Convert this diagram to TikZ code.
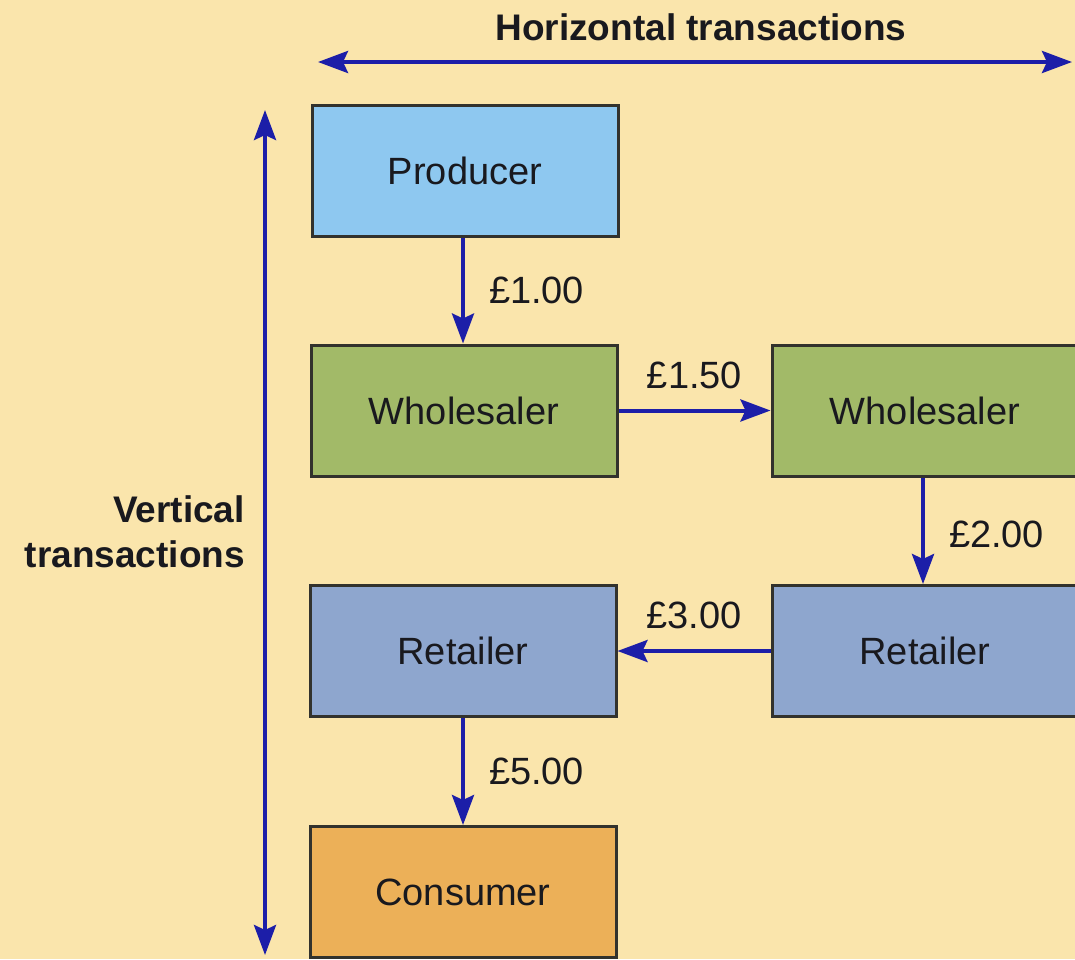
\documentclass[tikz,border=0pt]{standalone}
\usepackage{fontspec}
\setmainfont{Liberation Sans}
\usetikzlibrary{arrows.meta}
\definecolor{paper}{RGB}{250,229,172}
\definecolor{flowblue}{RGB}{28,30,168}
\definecolor{prodfill}{RGB}{142,200,240}
\definecolor{wholefill}{RGB}{162,186,104}
\definecolor{retailfill}{RGB}{142,166,206}
\definecolor{consfill}{RGB}{236,176,88}
\definecolor{edge}{RGB}{50,50,45}
\definecolor{ink}{RGB}{25,25,30}
\tikzset{
  x=1pt, y=1pt,
  stage/.style={draw=edge, line width=3pt, minimum width=306pt, minimum height=131pt,
    inner sep=0pt, text=ink, font=\fontsize{38}{44}\selectfont},
  flow/.style={draw=flowblue, line width=4pt,
    -{Stealth[length=30pt, width=22pt, inset=5pt]}},
  both/.style={draw=flowblue, line width=4pt,
    {Stealth[length=30pt, width=22pt, inset=5pt]}-{Stealth[length=30pt, width=22pt, inset=5pt]}},
  price/.style={text=ink, font=\fontsize{38}{44}\selectfont, inner sep=0pt},
  heading/.style={text=ink, font=\bfseries\fontsize{37}{45}\selectfont, inner sep=0pt}
}
\begin{document}
\begin{tikzpicture}
\useasboundingbox (0,0) rectangle (1075,-959);
\fill[paper] (0,0) rectangle (1075,-959);

% stages of the distribution chain
\node[stage, fill=prodfill]   (prod)   at (465,-170.5) {Producer};
\node[stage, fill=wholefill]  (whole1) at (464,-410.5) {Wholesaler};
\node[stage, fill=wholefill]  (whole2) at (925,-410.5) {Wholesaler};
\node[stage, fill=retailfill] (ret1)   at (463,-651)   {Retailer};
\node[stage, fill=retailfill] (ret2)   at (925,-651)   {Retailer};
\node[stage, fill=consfill]   (cons)   at (463,-892)   {Consumer};

% price flows
\draw[flow] (prod.south -| 463,0) -- (whole1.north -| 463,0)
  node[price, midway, right=24pt] {£1.00};
\draw[flow] (whole1.east) -- (whole2.west)
  node[price, midway, above=20pt] {£1.50};
\draw[flow] (whole2.south -| 923,0) -- (ret2.north -| 923,0)
  node[price, midway, right=24pt, yshift=-4pt] {£2.00};
\draw[flow] (ret2.west) -- (ret1.east)
  node[price, midway, above=20pt] {£3.00};
\draw[flow] (ret1.south) -- (cons.north)
  node[price, midway, right=24pt] {£5.00};

% axes of transactions
\coordinate (hl) at (318,-62);
\coordinate (hr) at (1072,-62);
\draw[both] (hl) -- (hr);
\node[heading] (htitle) at (701,-27) {Horizontal transactions};

\coordinate (vt) at (265,-110);
\coordinate (vb) at (265,-955);
\draw[both] (vt) -- (vb);
\node[heading, align=right, anchor=east] (vtitle) at (245,-532)
  {Vertical\\transactions};
\end{tikzpicture}
\end{document}
